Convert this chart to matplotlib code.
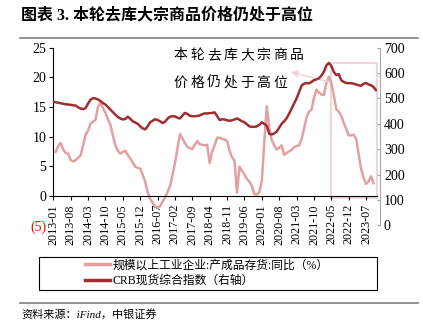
import numpy as np
import pandas as pd
import matplotlib
matplotlib.use("Agg")
import matplotlib.pyplot as plt
from matplotlib import transforms
from matplotlib.patches import Rectangle
from matplotlib.lines import Line2D

"""
data: monthly, 2013-01 .. 2023-11
"""
months = pd.date_range("2013-01", periods=131, freq="MS")
tick_labels = list(months[::7].strftime("%Y-%m"))

# industrial enterprises finished-goods inventory, yoy %
inventory_yoy = [
    np.nan, 7.4, 8.4, 8.9, 7.8, 7.2, 7.1, 6.0, 5.8, 6.0, 6.4, 6.8,
    8.5, 10.3, 11.0, 12.2, 12.5, 12.8, 15.0, 15.7, 14.8, 14.0, 12.9, 12.0,
    10.2, 8.5, 7.6, 7.1, 7.4, 7.6, 6.9, 6.3, 5.6, 4.9, 4.7, 4.6,
    3.5, 2.4, 0.6, -0.5, -1.2, -1.8, -2.0, -1.8, -1.0, -0.3, 0.6, 1.6,
    3.5, 5.5, 8.0, 10.4, 9.7, 8.9, 8.3, 8.0, 7.9, 8.6, 9.2, 8.7,
    8.6, 8.5, 8.6, 5.5, 7.5, 8.5, 9.8, 9.8, 9.6, 9.5, 9.2, 7.6,
    6.5, 5.9, 0.5, 4.9, 4.2, 3.6, 2.8, 2.4, 1.6, 0.3, 0.2, 0.6,
    2.5, 9.0, 15.1, 11.5, 9.4, 8.5, 7.8, 8.1, 8.5, 6.9, 7.2, 7.5,
    7.7, 8.2, 8.4, 8.5, 9.5, 11.3, 13.2, 14.2, 14.5, 16.5, 17.9, 17.4,
    17.1, 17.0, 19.0, 20.1, 19.0, 17.0, 14.6, 14.2, 13.5, 12.3, 11.3, 10.2,
    10.2, 10.3, 9.6, 7.0, 4.5, 3.0, 2.0, 2.4, 3.3, 2.1, np.nan,
]

# CRB spot index (right axis)
crb_spot = [
    487, 485, 483, 481, 479, 477, 476, 475, 473, 472, 465, 460,
    458, 462, 480, 495, 501, 500, 496, 490, 482, 476, 466, 456,
    446, 436, 427, 421, 417, 419, 428, 420, 410, 405, 400, 390,
    382, 378, 390, 406, 412, 418, 415, 410, 403, 408, 420, 428,
    430, 429, 424, 421, 432, 443, 439, 432, 430, 430, 431, 433,
    438, 441, 441, 442, 443, 445, 430, 415, 418, 417, 414, 412,
    414, 417, 421, 416, 410, 406, 398, 390, 388, 388, 390, 396,
    406, 400, 392, 360, 358, 362, 369, 385, 400, 410, 422, 440,
    460, 480, 500, 525, 550, 558, 561, 559, 565, 572, 575, 579,
    590, 605, 630, 640, 628, 605, 592, 596, 572, 565, 561, 560,
    560, 558, 555, 552, 550, 558, 561, 555, 552, 545, 533,
]

labels = ["规模以上工业企业:产成品存货:同比（%）", "CRB现货综合指数（右轴）"]
title = "图表 3. 本轮去库大宗商品价格仍处于高位"
note = ["本轮去库大宗商品", "价格仍处于高位"]
source = "资料来源：iFind，中银证券"

pink = "#e3a0a1"
maroon = "#a02e31"
pale = "#f4d3d9"
serif_cjk = ["Liberation Serif", "Noto Sans CJK SC"]
plt.rcParams["font.family"] = ["Noto Sans CJK SC", "DejaVu Sans"]

x = np.arange(len(months))

"""
plotting
"""
W, H = 423, 335
fig = plt.figure(figsize=(W / 100, H / 100), dpi=100)
ax = fig.add_axes([53.3 / W, 1 - 225.3 / H, (377 - 53.3) / W, (225.3 - 47.7) / H])
ax2 = ax.twinx()

ax.plot(x, inventory_yoy, color=pink, lw=1.8, solid_joinstyle="round")
ax2.plot(x, crb_spot, color=maroon, lw=1.8, solid_joinstyle="round")

xmax = 130.4
ax.set_xlim(0, xmax)
ax.set_ylim(-5, 25)
ax2.set_ylim(0, 700)

# left axis, x axis crossing at zero
for s in ["top", "right"]:
    ax.spines[s].set_visible(False)
ax.spines["bottom"].set_position(("data", 0))
ax.spines["left"].set_bounds(0, 25)
ax.set_yticks(range(-5, 30, 5))
ax.set_yticklabels(["(5)"] + [str(v) for v in range(0, 30, 5)],
                   family="Liberation Serif", fontsize=10)
ax.get_yticklabels()[0].set_color("#ff0000")
ax.yaxis.get_major_ticks()[0].tick1line.set_visible(False)
ax.tick_params(axis="y", direction="out", length=3, pad=2, width=0.8)

ax.set_xticks(x[::7])
ax.set_xticklabels(tick_labels, rotation=90, family="Liberation Serif", fontsize=8.7)
ax.tick_params(axis="x", direction="out", length=3, pad=3, width=0.8)

# right axis
for s in ["top", "left", "bottom"]:
    ax2.spines[s].set_visible(False)
ax2.spines["right"].set_color("#a6a6a6")
ax2.spines["right"].set_position(("outward", 2))
ax2.set_yticks(range(0, 800, 100))
ax2.set_yticklabels([str(v) for v in range(0, 800, 100)],
                    family="Liberation Serif", fontsize=10)
ax2.tick_params(axis="y", direction="in", length=2, pad=3, color="#a6a6a6")

# highlight box and arrow
ax.add_patch(Rectangle((112, -0.45), xmax - 112, 22.85, fill=False,
                       edgecolor=pale, lw=1.4, clip_on=False, zorder=1))
ax.annotate("", xy=(95.8, 20.9), xytext=(111.1, 19.2),
            arrowprops=dict(arrowstyle="-|>", color=pale, lw=1.2,
                            mutation_scale=9, shrinkA=0, shrinkB=0))

for row, yv in zip(note, [23.8, 19.1]):
    for i, ch in enumerate(row):
        tr = transforms.offset_copy(ax.transData, fig=fig, x=i * 11.9, y=0, units="points")
        ax.text(48.6, yv, ch, transform=tr, fontsize=10, ha="left", va="center")

# title, rules and source
fig.text(21 / W, 1 - 15 / H, title, fontsize=11.5, fontweight="bold",
         family=serif_cjk, ha="left", va="center")
fig.add_artist(Line2D([20 / W, 418 / W], [1 - 37.7 / H] * 2, color="#808080", lw=1.2))
fig.add_artist(Line2D([20 / W, 418 / W], [1 - 303 / H] * 2, color="#808080", lw=1.2))
fig.text(21 / W, 1 - 314 / H, source, fontsize=8, style="italic",
         family=serif_cjk, ha="left", va="center")

# legend in a wide box
fig.add_artist(Rectangle((39.3 / W, 1 - 290 / H), (376.7 - 39.3) / W, 33.3 / H,
                         transform=fig.transFigure, fill=False, edgecolor="black", lw=0.8))
handles = [Line2D([], [], color=pink, lw=2.5), Line2D([], [], color=maroon, lw=2.5)]
fig.legend(handles, labels, loc="center", bbox_to_anchor=(207 / W, 1 - 273.3 / H),
           frameon=False, handlelength=2.1, handletextpad=0.2, labelspacing=0.3,
           borderpad=0, prop={"family": serif_cjk, "size": 8.5})

fig.savefig("out.png", dpi=100)
